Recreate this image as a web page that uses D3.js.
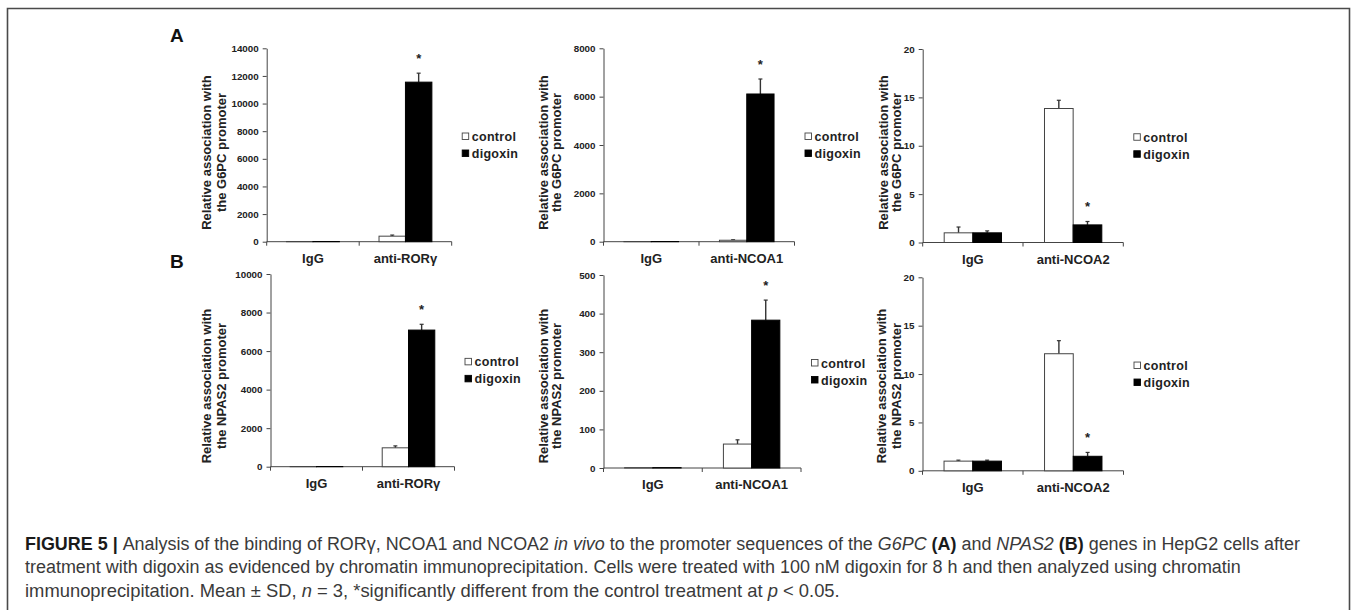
<!DOCTYPE html>
<html>
<head>
<meta charset="utf-8">
<script src="https://cdn.jsdelivr.net/npm/d3@7"></script>
<style>
  body { margin: 0; background: #fff; }
  svg { display: block; }
</style>
</head>
<body>
<div id="chart"></div>
<script>
const width = 1357;
const height = 610;

// series + categories
const seriesNames = ["control", "digoxin"];
const catsRorg = ["IgG", "anti-RORγ"];
const catsNcoa1 = ["IgG", "anti-NCOA1"];
const catsNcoa2 = ["IgG", "anti-NCOA2"];
const rowLabels = ["A", "B"];
const titleG6pc = ["Relative association with", "the G6PC promoter"];
const titleNpas2 = ["Relative association with", "the NPAS2 promoter"];

// A: G6PC promoter (mean, SD)
const a1Control = [15, 400], a1ControlSd = [0, 80];
const a1Digoxin = [15, 11550], a1DigoxinSd = [0, 650];
const a2Control = [8, 60], a2ControlSd = [0, 20];
const a2Digoxin = [8, 6110], a2DigoxinSd = [0, 620];
const a3Control = [1.0, 13.85], a3ControlSd = [0.6, 0.85];
const a3Digoxin = [1.0, 1.82], a3DigoxinSd = [0.2, 0.35];

// B: NPAS2 promoter (mean, SD)
const b1Control = [10, 980], b1ControlSd = [0, 100];
const b1Digoxin = [10, 7090], b1DigoxinSd = [0, 300];
const b2Control = [1, 62], b2ControlSd = [0, 11];
const b2Digoxin = [1, 383], b2DigoxinSd = [0, 52];
const b3Control = [1.0, 12.1], b3ControlSd = [0.1, 1.35];
const b3Digoxin = [1.0, 1.5], b3DigoxinSd = [0.1, 0.4];

// significant digoxin bars (category index)
const starIndex = [1, 1, 1, 1, 1, 1];

// y tick labels
const ticksA1 = [0, 2000, 4000, 6000, 8000, 10000, 12000, 14000];
const ticksA2 = [0, 2000, 4000, 6000, 8000];
const ticksA3 = [0, 5, 10, 15, 20];
const ticksB1 = [0, 2000, 4000, 6000, 8000, 10000];
const ticksB2 = [0, 100, 200, 300, 400, 500];
const ticksB3 = [0, 5, 10, 15, 20];

const panels = [
  { cats: catsRorg, ctl: a1Control, ctlSd: a1ControlSd, dig: a1Digoxin, digSd: a1DigoxinSd, ticks: ticksA1, title: titleG6pc },
  { cats: catsNcoa1, ctl: a2Control, ctlSd: a2ControlSd, dig: a2Digoxin, digSd: a2DigoxinSd, ticks: ticksA2, title: titleG6pc },
  { cats: catsNcoa2, ctl: a3Control, ctlSd: a3ControlSd, dig: a3Digoxin, digSd: a3DigoxinSd, ticks: ticksA3, title: titleG6pc },
  { cats: catsRorg, ctl: b1Control, ctlSd: b1ControlSd, dig: b1Digoxin, digSd: b1DigoxinSd, ticks: ticksB1, title: titleNpas2 },
  { cats: catsNcoa1, ctl: b2Control, ctlSd: b2ControlSd, dig: b2Digoxin, digSd: b2DigoxinSd, ticks: ticksB2, title: titleNpas2 },
  { cats: catsNcoa2, ctl: b3Control, ctlSd: b3ControlSd, dig: b3Digoxin, digSd: b3DigoxinSd, ticks: ticksB3, title: titleNpas2 }
];

// plot boxes (layout only)
const boxes = [
  { x0: 266.7, x1: 451.7, y0: 241.7, y1: 48.3, tx: [211.4, 226.4], ty: 152.5 },
  { x0: 603.5, x1: 794.5, y0: 241.7, y1: 48.3, tx: [548, 561.4], ty: 152.5 },
  { x0: 922.7, x1: 1123.3, y0: 242.5, y1: 49, tx: [888, 901.4], ty: 152.5 },
  { x0: 270.5, x1: 454.5, y0: 466.7, y1: 274, tx: [211.4, 226.4], ty: 386 },
  { x0: 603.5, x1: 801, y0: 468, y1: 275, tx: [548, 561.4], ty: 386 },
  { x0: 922.5, x1: 1123.5, y0: 470.8, y1: 277.3, tx: [886.4, 901.4], ty: 386 }
];

const font = "'Liberation Sans', Arial, sans-serif";
const ink = "#222";
const axisColor = "#444";

const svg = d3.select("#chart").append("svg")
  .attr("width", width)
  .attr("height", height)
  .attr("viewBox", `0 0 ${width} ${height}`);

svg.append("rect").attr("width", width).attr("height", height).attr("fill", "#fff");

// frame
svg.append("path")
  .attr("d", `M7.5,${height} V8.5 H1349.5 V${height}`)
  .attr("fill", "none")
  .attr("stroke", "#4a4a4a")
  .attr("stroke-width", 1.6);

// row letters
svg.selectAll("text.row")
  .data(rowLabels)
  .join("text")
  .attr("class", "row")
  .attr("x", 170)
  .attr("y", (d, i) => i === 0 ? 42 : 268)
  .attr("font-family", font)
  .attr("font-weight", "bold")
  .attr("font-size", 19)
  .attr("fill", "#111")
  .text(d => d);

panels.forEach((p, i) => {
  const b = boxes[i];
  const g = svg.append("g");

  const x0 = d3.scaleBand().domain(p.cats).range([b.x0, b.x1]).padding(0);
  const x1 = d3.scaleBand().domain(seriesNames).range([0, x0.bandwidth()])
    .paddingInner(0).paddingOuter(0.75);
  const y = d3.scaleLinear().domain([0, p.ticks[p.ticks.length - 1]]).range([b.y0, b.y1]);

  // y axis
  const yAxis = g.append("g")
    .attr("transform", `translate(${b.x0},0)`)
    .call(d3.axisLeft(y).tickValues(p.ticks).tickSize(4).tickPadding(4).tickSizeOuter(0).tickFormat(d3.format("d")));
  yAxis.select(".domain").attr("stroke", axisColor);
  yAxis.selectAll(".tick line").attr("stroke", axisColor);
  yAxis.selectAll("text")
    .attr("font-family", font)
    .attr("font-weight", "bold")
    .attr("font-size", 9.8)
    .attr("fill", ink);

  // category labels
  const xAxis = g.append("g")
    .attr("transform", `translate(0,${b.y0})`)
    .call(d3.axisBottom(x0).tickSize(0).tickPadding(12));
  xAxis.select(".domain").remove();
  xAxis.selectAll("text")
    .attr("font-family", font)
    .attr("font-weight", "bold")
    .attr("font-size", 13)
    .attr("fill", ink);

  // category axis line + boundary ticks
  g.append("line")
    .attr("x1", b.x0).attr("x2", b.x1)
    .attr("y1", b.y0).attr("y2", b.y0)
    .attr("stroke", axisColor);
  const bounds = p.cats.map(c => x0(c)).concat([x0(p.cats[p.cats.length - 1]) + x0.bandwidth()]);
  g.selectAll("line.bt")
    .data(bounds)
    .join("line")
    .attr("class", "bt")
    .attr("x1", d => d).attr("x2", d => d)
    .attr("y1", b.y0).attr("y2", b.y0 + 4)
    .attr("stroke", axisColor);

  // bars
  const rows = [];
  p.cats.forEach((c, k) => {
    rows.push({ cat: c, s: "control", v: p.ctl[k], sd: p.ctlSd[k], k });
    rows.push({ cat: c, s: "digoxin", v: p.dig[k], sd: p.digSd[k], k });
  });
  const cx = d => x0(d.cat) + x1(d.s) + x1.bandwidth() / 2;

  // error bars (upper half only)
  const eb = g.selectAll("g.eb")
    .data(rows.filter(d => d.sd > 0))
    .join("g")
    .attr("class", "eb");
  eb.append("line")
    .attr("x1", cx).attr("x2", cx)
    .attr("y1", d => y(d.v))
    .attr("y2", d => y(d.v + d.sd))
    .attr("stroke", "#333")
    .attr("stroke-width", 1.4);
  eb.append("line")
    .attr("x1", d => cx(d) - 2)
    .attr("x2", d => cx(d) + 2)
    .attr("y1", d => y(d.v + d.sd))
    .attr("y2", d => y(d.v + d.sd))
    .attr("stroke", "#333")
    .attr("stroke-width", 1.2);

  g.selectAll("rect.bar")
    .data(rows)
    .join("rect")
    .attr("class", "bar")
    .attr("x", d => x0(d.cat) + x1(d.s))
    .attr("y", d => y(d.v))
    .attr("width", x1.bandwidth())
    .attr("height", d => Math.max(0, y(0) - y(d.v)))
    .attr("fill", d => d.s === "control" ? "#fff" : "#000")
    .attr("stroke", d => d.s === "control" ? "#444" : "#000")
    .attr("stroke-width", 1);

  // significance star
  const sr = rows.filter(d => d.s === "digoxin" && d.k === starIndex[i]);
  g.selectAll("text.star")
    .data(sr)
    .join("text")
    .attr("class", "star")
    .attr("x", cx)
    .attr("y", d => y(d.v + d.sd) - 10.5)
    .attr("text-anchor", "middle")
    .attr("font-family", font)
    .attr("font-weight", "bold")
    .attr("font-size", 13)
    .attr("fill", ink)
    .text("*");

  // y title (two lines, rotated)
  p.title.forEach((t, li) => {
    g.append("text")
      .attr("transform", `translate(${b.tx[li]},${b.ty}) rotate(-90)`)
      .attr("text-anchor", "middle")
      .attr("font-family", font)
      .attr("font-weight", "bold")
      .attr("font-size", 13)
      .attr("fill", ink)
      .text(t);
  });

  // legend
  const lx = b.x1 + 10;
  const ly = (b.y0 + b.y1) / 2;
  const lg = g.selectAll("g.leg")
    .data(seriesNames)
    .join("g")
    .attr("class", "leg")
    .attr("transform", (d, j) => `translate(${lx},${ly + (j === 0 ? -8.5 : 8.5)})`);
  lg.append("rect")
    .attr("x", 0.5).attr("y", -3.5)
    .attr("width", 6.5).attr("height", 6.5)
    .attr("fill", d => d === "control" ? "#fff" : "#000")
    .attr("stroke", d => d === "control" ? "#444" : "#000")
    .attr("stroke-width", 0.9);
  lg.append("text")
    .attr("x", 10)
    .attr("dy", "0.36em")
    .attr("font-family", font)
    .attr("font-weight", "bold")
    .attr("font-size", 12.5)
    .attr("letter-spacing", 0.3)
    .attr("fill", ink)
    .text(d => d);
});

// caption
const captionLines = [
  [["FIGURE 5 | ", "b"], ["Analysis of the binding of RORγ, NCOA1 and NCOA2 ", ""], ["in vivo", "i"],
   [" to the promoter sequences of the ", ""], ["G6PC", "i"], [" ", ""], ["(A)", "b"], [" and ", ""],
   ["NPAS2", "i"], [" ", ""], ["(B)", "b"], [" genes in HepG2 cells after", ""]],
  [["treatment with digoxin as evidenced by chromatin immunoprecipitation. Cells were treated with 100 nM digoxin for 8 h and then analyzed using chromatin", ""]],
  [["immunoprecipitation. Mean ± SD, ", ""], ["n", "i"], [" = 3, *significantly different from the control treatment at ", ""],
   ["p", "i"], [" < 0.05.", ""]]
];
const captionWidths = [1275, 1217, 815];
const captionY = [550, 573, 596.5];

captionLines.forEach((parts, li) => {
  const lineG = svg.append("g");
  const t = lineG.append("text")
    .attr("x", 0)
    .attr("y", 0)
    .attr("font-family", font)
    .attr("font-size", 19)
    .attr("fill", "#3a3a3a");
  parts.forEach(([s, st]) => {
    t.append("tspan")
      .attr("font-weight", st === "b" ? "bold" : null)
      .attr("font-style", st === "i" ? "italic" : null)
      .attr("fill", st === "b" ? "#1a1a1a" : null)
      .text(s);
  });
  // squeeze to the narrow face of the original
  const natural = t.node().getComputedTextLength();
  const sx = natural > 0 ? captionWidths[li] / natural : 1;
  lineG.attr("transform", `translate(25,${captionY[li]}) scale(${sx},1)`);
});
</script>
</body>
</html>
